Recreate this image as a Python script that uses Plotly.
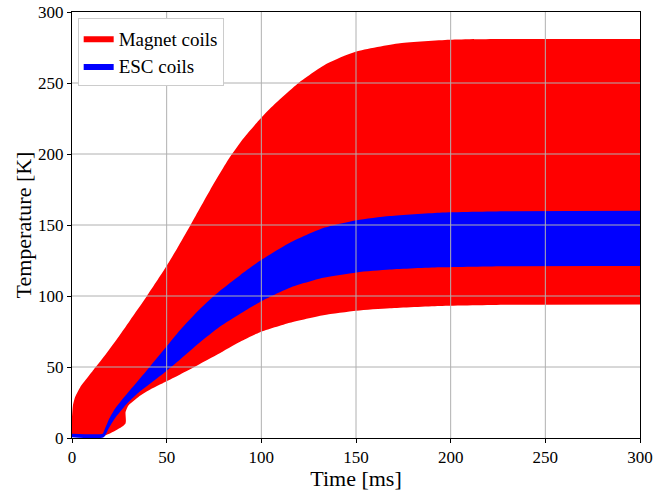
import plotly.graph_objects as go

# Magnet coils: upper and lower temperature envelope
magnet_max_t = [0, 0.5, 1.7, 4.4, 7.9, 11.4, 17, 23.4, 30.7, 39.6, 49.2, 55.5, 62.4, 72.9, 83.5, 90.5, 97.6, 105, 118.7, 134.5, 149.8, 173.2, 199.5, 230, 300]
magnet_max_T = [15, 23, 29, 36, 42, 48, 57.5, 69, 83, 100, 119.5, 133.5, 149.5, 174.5, 198, 211, 222, 232.5, 249, 263.5, 272, 278, 280.5, 281, 281]
magnet_min_t = [0, 16.7, 28.2, 28.3, 29.9, 35.1, 42.2, 49.2, 57.1, 67.3, 77, 88.8, 99.3, 115.1, 132.7, 150.3, 167.9, 194.2, 230, 300]
magnet_min_T = [1.5, 1.5, 10.1, 18.3, 23, 28.9, 34.8, 39.5, 44.8, 52, 59, 67.8, 74.5, 81.2, 86.5, 89.6, 91.3, 92.9, 93.8, 94]

# ESC coils: upper and lower temperature envelope
esc_max_t = [0, 16.2, 16.7, 19.3, 22.8, 29.9, 35, 41, 49.7, 57.1, 67.3, 78, 88.8, 99.3, 115.1, 132.7, 150.3, 167.9, 194.2, 230, 300]
esc_max_T = [3, 3, 4.2, 12.5, 20.7, 32.5, 40.5, 50, 64, 76, 90.5, 103.5, 114.7, 124.8, 137.5, 147.8, 153.3, 156.3, 158.7, 159.7, 160]
esc_min_t = [0, 16.7, 19.3, 22.8, 27.6, 29.9, 35.1, 42.2, 49.7, 57.1, 67.3, 78, 88.8, 99.3, 115.1, 132.7, 150.3, 167.9, 194.2, 230, 300]
esc_min_T = [0.5, 0.5, 6.5, 14, 22, 25.3, 31.8, 39.2, 47, 55.3, 67, 78.3, 87.5, 95.8, 105.8, 112.8, 116.6, 118.6, 120.2, 121, 121.1]

x_ticks = [0, 50, 100, 150, 200, 250, 300]
y_ticks = [0, 50, 100, 150, 200, 250, 300]

FONT = "Liberation Serif, Times New Roman, serif"

fig = go.Figure()


def band(t_lo, T_lo, t_hi, T_hi, color, name):
    fig.add_trace(go.Scatter(x=t_lo, y=T_lo, mode="lines",
                             line=dict(width=0, color=color, shape="spline", smoothing=0.6),
                             showlegend=False, hoverinfo="skip"))
    fig.add_trace(go.Scatter(x=t_hi, y=T_hi, mode="lines",
                             line=dict(width=0, color=color, shape="spline", smoothing=0.6),
                             fill="tonexty", fillcolor=color, name=name))


band(magnet_min_t, magnet_min_T, magnet_max_t, magnet_max_T, "#ff0000", "Magnet coils")
band(esc_min_t, esc_min_T, esc_max_t, esc_max_T, "#0000ff", "ESC coils")

grid_shapes = []
for v in x_ticks[1:-1]:
    grid_shapes.append(dict(type="line", xref="x", yref="paper", x0=v, x1=v, y0=0, y1=1,
                            line=dict(color="#b0b0b0", width=1), layer="above"))
for v in y_ticks[1:-1]:
    grid_shapes.append(dict(type="line", xref="paper", yref="y", x0=0, x1=1, y0=v, y1=v,
                            line=dict(color="#b0b0b0", width=1), layer="above"))

axis_common = dict(
    showgrid=False, zeroline=False, showline=True, linecolor="black", linewidth=1,
    mirror=True, ticks="outside", ticklen=4, tickwidth=1, tickcolor="black",
    tickfont=dict(family=FONT, size=17, color="black"), automargin=False,
)

fig.update_layout(
    width=653, height=491,
    margin=dict(l=72, r=13, t=12, b=53),
    paper_bgcolor="white", plot_bgcolor="white",
    font=dict(family=FONT, color="black"),
    shapes=grid_shapes,
    xaxis=dict(range=[0, 300], tickvals=x_ticks,
               title=dict(text="Time [ms]", font=dict(family=FONT, size=22), standoff=1),
               **axis_common),
    yaxis=dict(range=[0, 300], tickvals=y_ticks,
               title=dict(text="Temperature [K]", font=dict(family=FONT, size=22), standoff=0),
               **axis_common),
    legend=dict(x=0.01, y=0.985, xanchor="left", yanchor="top", traceorder="normal",
                bgcolor="white", bordercolor="#cccccc", borderwidth=1,
                font=dict(family=FONT, size=19)),
    showlegend=True,
)

fig.write_html("out.html")
